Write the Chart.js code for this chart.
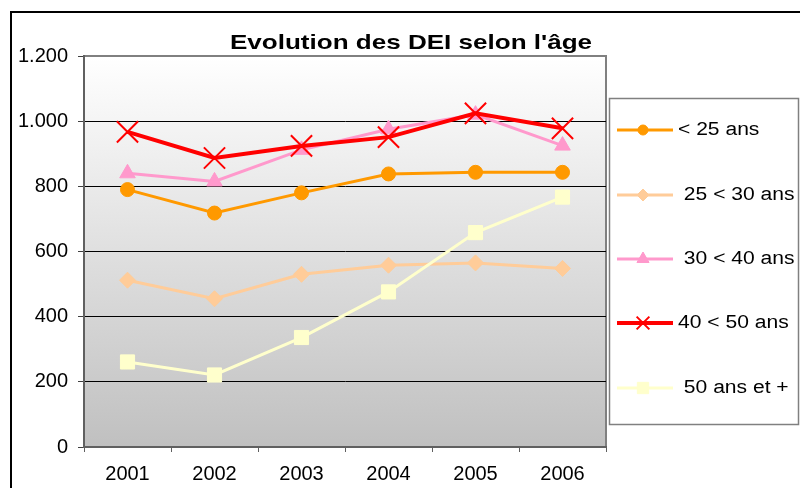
<!DOCTYPE html>
<html>
<head>
<meta charset="utf-8">
<script src="https://cdn.jsdelivr.net/npm/chart.js@4/dist/chart.umd.min.js"></script>
<style>
  html, body { margin: 0; padding: 0; background: #fff; }
  #wrap { position: relative; width: 800px; height: 488px; }
</style>
</head>
<body>
<div id="wrap"><canvas id="c" width="800" height="488"></canvas></div>
<script>
const title = "Evolution des DEI selon l'âge";
const years = ["2001", "2002", "2003", "2004", "2005", "2006"];
const seriesNames = ["< 25 ans", " 25 < 30 ans", " 30 < 40 ans", "40 < 50 ans", " 50 ans et +"];
const under25 = [790, 718, 780, 838, 843, 843];
const from25to30 = [512, 455, 530, 558, 565, 548];
const from30to40 = [840, 815, 912, 975, 1020, 925];
const from40to50 = [967, 887, 924, 951, 1024, 978];
const over50 = [261, 221, 336, 476, 658, 767];
const yTicks = [0, 200, 400, 600, 800, 1000, 1200];

const seriesValues = [under25, from25to30, from30to40, from40to50, over50];
const colors = ["#FF9900", "#FFCC99", "#FF99CC", "#FF0000", "#FFFFCC"];
const styles = ["circle", "rectRot", "triangle", "crossRot", "rect"];
const radii = [7, 8, 9, 15, 10];
const legendRadii = [5, 6, 7, 9, 8];
const widths = [3, 3, 3, 4, 3];

const FONT = '"Liberation Sans", Arial, sans-serif';
const fmt = v => String(v).replace(/\B(?=(\d{3})+(?!\d))/g, ".");

function stretchedText(ctx, text, x, y, sx) {
  ctx.save();
  ctx.translate(x, y);
  ctx.scale(sx, 1);
  ctx.fillText(text, 0, 0);
  ctx.restore();
}

const bgPlugin = {
  id: 'bg',
  beforeDraw(chart) {
    const { ctx, chartArea: a } = chart;
    ctx.save();
    ctx.strokeStyle = '#000';
    ctx.lineWidth = 2;
    ctx.strokeRect(11, 12, 900, 600);
    const g = ctx.createLinearGradient(0, a.top, 0, a.bottom);
    g.addColorStop(0, '#ffffff');
    g.addColorStop(1, '#c0c0c0');
    ctx.fillStyle = g;
    ctx.fillRect(a.left, a.top, a.right - a.left, a.bottom - a.top);
    ctx.strokeStyle = '#808080';
    ctx.lineWidth = 2;
    ctx.beginPath();
    ctx.moveTo(a.left, a.top);
    ctx.lineTo(a.right, a.top);
    ctx.lineTo(a.right, a.bottom);
    ctx.stroke();
    ctx.fillStyle = '#000';
    ctx.font = 'bold 21px ' + FONT;
    ctx.textAlign = 'center';
    ctx.textBaseline = 'alphabetic';
    stretchedText(ctx, title, 411, 49, 1.24);
    ctx.restore();
  },
  afterDraw(chart) {
    const { ctx } = chart;
    ctx.save();
    const bx = 609, by = 98, bw = 189, bh = 326;
    ctx.fillStyle = '#fff';
    ctx.fillRect(bx, by, bw, bh);
    ctx.strokeStyle = '#808080';
    ctx.lineWidth = 1.5;
    ctx.strokeRect(bx + 0.5, by + 0.5, bw, bh);
    const rows = [130, 195, 259, 323, 388];
    chart.data.datasets.forEach((ds, i) => {
      const y = rows[i];
      ctx.strokeStyle = ds.borderColor;
      ctx.lineWidth = ds.borderWidth;
      ctx.beginPath();
      ctx.moveTo(617, y);
      ctx.lineTo(673, y);
      ctx.stroke();
      ctx.fillStyle = ds.backgroundColor;
      ctx.strokeStyle = ds.borderColor;
      ctx.lineWidth = i === 3 ? 2 : 1;
      Chart.helpers.drawPoint(ctx, { pointStyle: ds.pointStyle, radius: legendRadii[i], rotation: 0, borderWidth: 1 }, 643, y);
      ctx.fillStyle = '#000';
      ctx.font = '18px ' + FONT;
      ctx.textAlign = 'left';
      ctx.textBaseline = 'middle';
      stretchedText(ctx, ds.label, 678, y, 1.17);
    });
    ctx.restore();
  }
};

new Chart(document.getElementById('c'), {
  type: 'line',
  data: {
    labels: years,
    datasets: seriesValues.map((vals, i) => ({
      label: seriesNames[i],
      data: vals,
      borderColor: colors[i],
      backgroundColor: colors[i],
      borderWidth: widths[i],
      pointStyle: styles[i],
      pointRadius: radii[i],
      pointBorderWidth: i === 3 ? 2 : 1,
      pointBackgroundColor: colors[i],
      pointBorderColor: colors[i],
      tension: 0,
      fill: false,
      order: seriesValues.length - i
    }))
  },
  options: {
    responsive: false,
    animation: false,
    events: [],
    layout: { padding: { left: 0, top: 56, right: 194, bottom: 0 } },
    plugins: { legend: { display: false }, title: { display: false }, tooltip: { enabled: false } },
    scales: {
      x: {
        offset: true,
        grid: { offset: true, drawOnChartArea: false, tickLength: 5, tickColor: '#606060', lineWidth: 1 },
        border: { color: '#606060', width: 2 },
        ticks: { color: '#000', font: { family: FONT, size: 20 }, padding: 10, maxRotation: 0 },
        afterFit(s) { s.height = 41; }
      },
      y: {
        min: 0, max: 1200,
        afterBuildTicks(s) { s.ticks = yTicks.map(v => ({ value: v })); },
        grid: {
          color: ctx => (ctx.tick && (ctx.tick.value === 0 || ctx.tick.value === 1200)) ? 'rgba(0,0,0,0)' : '#000',
          tickColor: '#404040', tickLength: 6, lineWidth: 1
        },
        border: { color: '#606060', width: 2 },
        ticks: { color: '#000', font: { family: FONT, size: 20 }, padding: 10, callback: v => fmt(v) },
        afterFit(s) { s.width = 84; }
      }
    }
  },
  plugins: [bgPlugin]
});
</script>
</body>
</html>
